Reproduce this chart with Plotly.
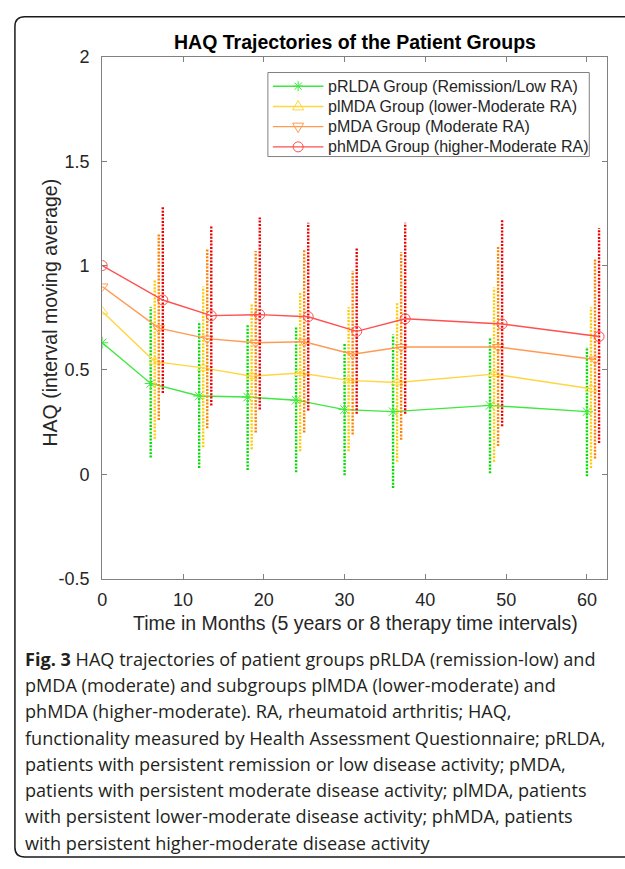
import plotly.graph_objects as go

# ---------------- data ----------------
months_rlda = [0, 6, 12, 18, 24, 30, 36, 48, 60]
months_lmda = [0, 6.5, 12.5, 18.5, 24.5, 30.5, 36.5, 48.5, 60.5]
months_mda = [0, 7, 13, 19, 25, 31, 37, 49, 61]
months_hmda = [0, 7.5, 13.5, 19.5, 25.5, 31.5, 37.5, 49.5, 61.5]

rlda_mean = [0.63, 0.435, 0.375, 0.37, 0.355, 0.31, 0.30, 0.33, 0.30]
rlda_low = [None, 0.08, 0.03, 0.02, 0.01, -0.005, -0.066, 0.005, -0.01]
rlda_high = [None, 0.80, 0.73, 0.72, 0.71, 0.63, 0.67, 0.65, 0.61]

lmda_mean = [0.78, 0.54, 0.51, 0.47, 0.485, 0.45, 0.44, 0.48, 0.41]
lmda_low = [None, 0.17, 0.13, 0.12, 0.11, 0.11, 0.06, 0.06, 0.03]
lmda_high = [None, 0.93, 0.90, 0.82, 0.87, 0.80, 0.825, 0.895, 0.80]

mda_mean = [0.90, 0.70, 0.65, 0.63, 0.635, 0.575, 0.61, 0.61, 0.55]
mda_low = [None, 0.26, 0.22, 0.20, 0.20, 0.19, 0.165, 0.135, 0.075]
mda_high = [None, 1.15, 1.08, 1.07, 1.08, 0.975, 1.065, 1.09, 1.03]

hmda_mean = [1.00, 0.835, 0.76, 0.765, 0.755, 0.685, 0.745, 0.72, 0.66]
hmda_low = [None, 0.39, 0.33, 0.31, 0.305, 0.29, 0.29, 0.23, 0.15]
hmda_high = [None, 1.285, 1.19, 1.23, 1.205, 1.085, 1.205, 1.22, 1.18]

series_names = [
    "pRLDA Group (Remission/Low RA)",
    "plMDA Group (lower-Moderate RA)",
    "pMDA Group (Moderate RA)",
    "phMDA Group (higher-Moderate RA)",
]

x_ticks = [0, 10, 20, 30, 40, 50, 60]
y_ticks = [-0.5, 0, 0.5, 1, 1.5, 2]
y_tick_labels = ["-0.5", "0", "0.5", "1", "1.5", "2"]

title_text = "HAQ Trajectories of the Patient Groups"
x_title = "Time in Months (5 years or 8 therapy time intervals)"
y_title = "HAQ (interval moving average)"

caption_lines = [
    "<b>Fig. 3</b> HAQ trajectories of patient groups pRLDA (remission-low) and",
    "pMDA (moderate) and subgroups plMDA (lower-moderate) and",
    "phMDA (higher-moderate). RA, rheumatoid arthritis; HAQ,",
    "functionality measured by Health Assessment Questionnaire; pRLDA,",
    "patients with persistent remission or low disease activity; pMDA,",
    "patients with persistent moderate disease activity; plMDA, patients",
    "with persistent lower-moderate disease activity; phMDA, patients",
    "with persistent higher-moderate disease activity",
]

# ---------------- styling ----------------
W, H = 625, 869
AX_FONT = "Liberation Sans, Arial, sans-serif"
line_colors = ["#3fe83f", "#ffd640", "#ff9a50", "#ff4f4f"]
bar_colors = ["#00dd00", "#ffcc00", "#ff8000", "#ee0000"]
markers = ["asterisk-open", "triangle-up-open", "triangle-down-open", "circle-open"]

groups = [
    (months_rlda, rlda_mean, rlda_low, rlda_high),
    (months_lmda, lmda_mean, lmda_low, lmda_high),
    (months_mda, mda_mean, mda_low, mda_high),
    (months_hmda, hmda_mean, hmda_low, hmda_high),
]

fig = go.Figure()
for i, (xs, mean, low, high) in enumerate(groups):
    bx, by = [], []
    for x, lo, hi in zip(xs, low, high):
        if lo is None or hi is None:
            continue
        bx += [x, x, None]
        by += [lo, hi, None]
    fig.add_trace(go.Scatter(
        x=bx, y=by, mode="lines", showlegend=False, hoverinfo="skip",
        line=dict(color=bar_colors[i], width=2.4, dash="2px,1.4px"),
    ))
    fig.add_trace(go.Scatter(
        x=xs, y=mean, mode="lines+markers", name=series_names[i], showlegend=False,
        line=dict(color=line_colors[i], width=1.4),
        marker=dict(symbol=markers[i], size=10, color=line_colors[i],
                    line=dict(color=line_colors[i], width=1)),
    ))

axis_common = dict(
    showline=True, linecolor="#808080", linewidth=1, mirror="ticks",
    ticks="inside", ticklen=5, tickcolor="#808080", tickwidth=1,
    showgrid=False, zeroline=False,
    tickfont=dict(family=AX_FONT, size=18, color="#262626"),
)

fig.update_layout(
    width=W, height=H,
    margin=dict(l=0, r=0, t=0, b=0),
    paper_bgcolor="white", plot_bgcolor="white",
    xaxis=dict(domain=[98 / W, 607 / W], range=[0, 62.5], tickvals=x_ticks,
               ticklabelstandoff=5, **axis_common),
    yaxis=dict(domain=[1 - 582 / H, 1 - 48 / H], range=[-0.5, 2], tickvals=y_ticks,
               ticktext=y_tick_labels, ticklabelstandoff=8, **axis_common),
    showlegend=False,
)

annos = [
    dict(text="<b>" + title_text + "</b>", x=353 / W, y=1 - 33 / H,
         font=dict(family=AX_FONT, size=19.5, color="#000000")),
    dict(text=x_title, x=353 / W, y=1 - 627 / H,
         font=dict(family=AX_FONT, size=19.5, color="#262626")),
    dict(text=y_title, x=45 / W, y=1 - 310 / H, textangle=-90,
         font=dict(family=AX_FONT, size=19.5, color="#262626")),
]
for a in annos:
    fig.add_annotation(xref="paper", yref="paper", showarrow=False,
                       xanchor="center", yanchor="middle", **a)

# ---------------- legend box (MATLAB style) ----------------
leg_x0, leg_x1, leg_y0, leg_y1 = 265, 589, 64, 150
fig.add_shape(type="rect", xref="paper", yref="paper",
              x0=leg_x0 / W, x1=leg_x1 / W, y0=1 - leg_y1 / H, y1=1 - leg_y0 / H,
              line=dict(color="#808080", width=1), fillcolor="white", layer="above")
sym_paths = {
    "asterisk-open": "M -5,0 L 5,0 M 0,-5 L 0,5 M -3.6,-3.6 L 3.6,3.6 M -3.6,3.6 L 3.6,-3.6",
    "triangle-up-open": "M -5.5,-3.5 L 5.5,-3.5 L 0,6 Z",
    "triangle-down-open": "M -5.5,3.5 L 5.5,3.5 L 0,-6 Z",
}
for i, name in enumerate(series_names):
    yrow = 78 + 20.7 * i
    yp = 1 - yrow / H
    fig.add_shape(type="line", xref="paper", yref="paper",
                  x0=270 / W, x1=321 / W, y0=yp, y1=yp,
                  line=dict(color=line_colors[i], width=1.4), layer="above")
    if markers[i] == "circle-open":
        fig.add_shape(type="circle", xref="paper", yref="paper",
                      xsizemode="pixel", ysizemode="pixel",
                      xanchor=295.5 / W, yanchor=yp, x0=-5, x1=5, y0=-5, y1=5,
                      line=dict(color=line_colors[i], width=1), layer="above")
    else:
        fig.add_shape(type="path", xref="paper", yref="paper",
                      xsizemode="pixel", ysizemode="pixel",
                      xanchor=295.5 / W, yanchor=yp, path=sym_paths[markers[i]],
                      line=dict(color=line_colors[i], width=1), layer="above")
    fig.add_annotation(xref="paper", yref="paper", showarrow=False,
                       xanchor="left", yanchor="middle", x=324 / W, y=yp,
                       text=name, font=dict(family=AX_FONT, size=16, color="#262626"))

# ---------------- caption ----------------
for k, line in enumerate(caption_lines):
    fig.add_annotation(
        xref="paper", yref="paper", showarrow=False, xanchor="left", yanchor="middle",
        x=18 / W, y=1 - (664 + 26.9 * k) / H, text=line, align="left",
        font=dict(family="Open Sans", size=18.1, color="#231f20"),
    )

# rounded outer frame of the figure panel
lx, rx_ = 10 / W, 1.02
ty, byy = 1 - 7 / H, 1 - 867 / H
rxp, ryp = 10 / W, 10 / H
path = (f"M {rx_},{ty} L {lx + rxp},{ty} Q {lx},{ty} {lx},{ty - ryp} "
        f"L {lx},{byy + ryp} Q {lx},{byy} {lx + rxp},{byy} L {rx_},{byy}")
fig.add_shape(type="path", xref="paper", yref="paper", path=path,
              line=dict(color="#1a1a1a", width=1.5), layer="above")

fig.write_html("out.html")
